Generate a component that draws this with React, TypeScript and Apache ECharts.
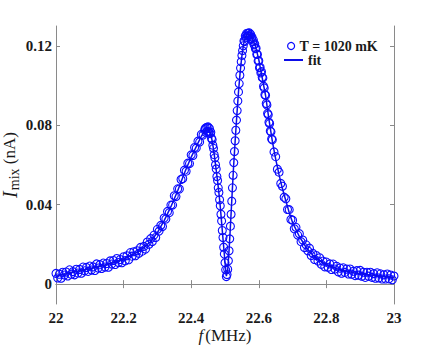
import React, { useEffect, useRef } from "react";
import * as echarts from "echarts";

// Tick values
const xTicks = [22, 22.2, 22.4, 22.6, 22.8, 23];
const yTicks = [0, 0.04, 0.08, 0.12];

const measuredLow: [number, number][] = [
  [22.000, 0.0054], [22.005, 0.0031], [22.010, 0.0050], [22.015, 0.0030], [22.020, 0.0060],
  [22.025, 0.0046], [22.030, 0.0061], [22.035, 0.0041], [22.040, 0.0072], [22.045, 0.0050],
  [22.050, 0.0063], [22.055, 0.0047], [22.060, 0.0075], [22.065, 0.0056], [22.070, 0.0074],
  [22.075, 0.0055], [22.080, 0.0086], [22.085, 0.0067], [22.090, 0.0084], [22.095, 0.0064],
  [22.100, 0.0091], [22.105, 0.0071], [22.110, 0.0087], [22.115, 0.0069], [22.120, 0.0102],
  [22.125, 0.0081], [22.130, 0.0098], [22.135, 0.0079], [22.140, 0.0106], [22.145, 0.0086],
  [22.150, 0.0104], [22.155, 0.0085], [22.160, 0.0117], [22.165, 0.0101], [22.170, 0.0119],
  [22.175, 0.0099], [22.180, 0.0129], [22.185, 0.0109], [22.190, 0.0124], [22.195, 0.0108],
  [22.200, 0.0138], [22.205, 0.0118], [22.210, 0.0143], [22.215, 0.0123], [22.220, 0.0159],
  [22.225, 0.0141], [22.230, 0.0163], [22.235, 0.0143], [22.240, 0.0168], [22.245, 0.0155],
  [22.250, 0.0185], [22.255, 0.0166], [22.260, 0.0190], [22.265, 0.0177], [22.270, 0.0212],
  [22.275, 0.0201], [22.280, 0.0229], [22.285, 0.0215], [22.290, 0.0247], [22.295, 0.0235],
  [22.300, 0.0276], [22.305, 0.0267], [22.310, 0.0296], [22.315, 0.0290], [22.320, 0.0333],
  [22.325, 0.0328], [22.330, 0.0366], [22.335, 0.0360], [22.340, 0.0398], [22.345, 0.0398],
  [22.350, 0.0445], [22.355, 0.0441], [22.360, 0.0480], [22.365, 0.0479], [22.370, 0.0527],
  [22.375, 0.0532], [22.380, 0.0574], [22.385, 0.0569], [22.390, 0.0609], [22.395, 0.0607],
  [22.400, 0.0651], [22.405, 0.0648], [22.410, 0.0688], [22.415, 0.0685], [22.420, 0.0720],
  [22.425, 0.0716], [22.430, 0.0754], [22.435, 0.0751], [22.440, 0.0778],
];

const measuredPeak: [number, number][] = [
  [22.442, 0.0785], [22.444, 0.0764], [22.446, 0.0790], [22.448, 0.0769], [22.450, 0.0792],
  [22.452, 0.0766], [22.454, 0.0784], [22.456, 0.0758], [22.458, 0.0765], [22.460, 0.0735],
  [22.462, 0.0728], [22.464, 0.0700], [22.466, 0.0684], [22.468, 0.0652], [22.470, 0.0636],
  [22.472, 0.0601], [22.474, 0.0580], [22.476, 0.0542], [22.478, 0.0522], [22.480, 0.0485],
  [22.482, 0.0462], [22.484, 0.0425], [22.486, 0.0395], [22.488, 0.0352], [22.490, 0.0318],
  [22.492, 0.0270], [22.494, 0.0235], [22.496, 0.0186], [22.498, 0.0152], [22.500, 0.0108],
  [22.502, 0.0072], [22.504, 0.0038], [22.506, 0.0048], [22.508, 0.0075], [22.510, 0.0118],
  [22.512, 0.0168], [22.514, 0.0228], [22.516, 0.0292], [22.518, 0.0352], [22.520, 0.0418],
  [22.522, 0.0485], [22.524, 0.0548], [22.526, 0.0612], [22.528, 0.0668], [22.530, 0.0722],
  [22.532, 0.0775], [22.534, 0.0826], [22.536, 0.0874], [22.538, 0.0922], [22.540, 0.0968],
  [22.542, 0.1010], [22.544, 0.1052], [22.546, 0.1088], [22.548, 0.1120], [22.550, 0.1152],
  [22.552, 0.1176], [22.554, 0.1200], [22.556, 0.1225], [22.558, 0.1222], [22.560, 0.1250],
  [22.562, 0.1241], [22.564, 0.1262], [22.566, 0.1249], [22.568, 0.1264], [22.570, 0.1252],
  [22.572, 0.1265], [22.574, 0.1248], [22.576, 0.1258], [22.578, 0.1236], [22.580, 0.1244],
  [22.582, 0.1222], [22.584, 0.1229], [22.586, 0.1205], [22.588, 0.1210], [22.590, 0.1186],
  [22.592, 0.1188], [22.594, 0.1158], [22.596, 0.1157], [22.598, 0.1124], [22.600, 0.1125],
  [22.602, 0.1090], [22.604, 0.1092], [22.606, 0.1064], [22.608, 0.1070], [22.610, 0.1042],
  [22.612, 0.1038], [22.614, 0.0997], [22.616, 0.0988], [22.618, 0.0954], [22.620, 0.0951],
  [22.622, 0.0910], [22.624, 0.0902], [22.626, 0.0860], [22.628, 0.0853], [22.630, 0.0815],
  [22.632, 0.0809], [22.634, 0.0771], [22.636, 0.0767], [22.638, 0.0731], [22.640, 0.0727],
];

const measuredHigh: [number, number][] = [
  [22.645, 0.0666], [22.650, 0.0642], [22.655, 0.0579], [22.660, 0.0564], [22.665, 0.0507],
  [22.670, 0.0493], [22.675, 0.0438], [22.680, 0.0430], [22.685, 0.0376], [22.690, 0.0375],
  [22.695, 0.0326], [22.700, 0.0322], [22.705, 0.0279], [22.710, 0.0286], [22.715, 0.0247],
  [22.720, 0.0254], [22.725, 0.0214], [22.730, 0.0222], [22.735, 0.0184], [22.740, 0.0198],
  [22.745, 0.0168], [22.750, 0.0181], [22.755, 0.0144], [22.760, 0.0155], [22.765, 0.0124],
  [22.770, 0.0144], [22.775, 0.0116], [22.780, 0.0133], [22.785, 0.0100], [22.790, 0.0116],
  [22.795, 0.0087], [22.800, 0.0111], [22.805, 0.0085], [22.810, 0.0102], [22.815, 0.0074],
  [22.820, 0.0101], [22.825, 0.0076], [22.830, 0.0090], [22.835, 0.0062], [22.840, 0.0081],
  [22.845, 0.0055], [22.850, 0.0082], [22.855, 0.0059], [22.860, 0.0076], [22.865, 0.0051],
  [22.870, 0.0076], [22.875, 0.0050], [22.880, 0.0065], [22.885, 0.0043], [22.890, 0.0068],
  [22.895, 0.0045], [22.900, 0.0069], [22.905, 0.0040], [22.910, 0.0060], [22.915, 0.0034],
  [22.920, 0.0060], [22.925, 0.0040], [22.930, 0.0060], [22.935, 0.0034], [22.940, 0.0053],
  [22.945, 0.0030], [22.950, 0.0057], [22.955, 0.0031], [22.960, 0.0052], [22.965, 0.0026],
  [22.970, 0.0047], [22.975, 0.0026], [22.980, 0.0051], [22.985, 0.0027], [22.990, 0.0046],
  [22.995, 0.0022], [23.000, 0.0041],
];

// Fit curve [f (MHz), I_mix (nA)]
const fitCurve: [number, number][] = [
  [22.00, 0.0040], [22.05, 0.0060], [22.10, 0.0078], [22.15, 0.0098], [22.20, 0.0125],
  [22.25, 0.0170], [22.28, 0.0215], [22.30, 0.0260], [22.32, 0.0320], [22.34, 0.0390],
  [22.36, 0.0470], [22.38, 0.0560], [22.40, 0.0640], [22.42, 0.0710], [22.43, 0.0745],
  [22.44, 0.0770], [22.445, 0.0777], [22.45, 0.0780], [22.455, 0.0770], [22.46, 0.0740],
  [22.465, 0.0690], [22.47, 0.0630], [22.475, 0.0560], [22.48, 0.0490], [22.485, 0.0410],
  [22.49, 0.0310], [22.495, 0.0210], [22.50, 0.0110], [22.504, 0.0040], [22.508, 0.0070],
  [22.512, 0.0170], [22.516, 0.0290], [22.52, 0.0420], [22.525, 0.0580], [22.53, 0.0720],
  [22.535, 0.0850], [22.54, 0.0970], [22.545, 0.1070], [22.55, 0.1150], [22.555, 0.1210],
  [22.56, 0.1240], [22.565, 0.1255], [22.57, 0.1260], [22.575, 0.1255], [22.58, 0.1240],
  [22.59, 0.1200], [22.60, 0.1130], [22.61, 0.1040], [22.62, 0.0950], [22.63, 0.0830],
  [22.64, 0.0720], [22.65, 0.0630], [22.66, 0.0550], [22.67, 0.0480], [22.68, 0.0420],
  [22.69, 0.0360], [22.70, 0.0310], [22.72, 0.0240], [22.74, 0.0185], [22.76, 0.0145],
  [22.78, 0.0118], [22.80, 0.0098], [22.84, 0.0072], [22.88, 0.0058], [22.92, 0.0048],
  [22.96, 0.0040], [23.00, 0.0034],
];

const dataName = "T = 1020 mK";
const fitName = "fit";

const AXIS_GRAY = "#8a8a8a";
const TEXT = "#1a1a1a";
const SERIF = "Liberation Serif";
const DATA_BLUE = "#0a0aff";
const FIT_BLUE = "#0d0de8";

export default function App() {
  const ref = useRef<HTMLDivElement>(null);

  useEffect(() => {
    if (!ref.current) return;
    const chart = echarts.init(ref.current, undefined, { renderer: "svg" });

    const axisLine = { show: true, lineStyle: { color: AXIS_GRAY, width: 1 } };
    const tickStyle = { color: AXIS_GRAY, width: 1 };
    const legendText = { fontFamily: SERIF, fontWeight: "bold", fontSize: 14, color: TEXT };

    chart.setOption({
      animation: false,
      backgroundColor: "#ffffff",
      grid: { left: 56, right: 42, top: 26, bottom: 43, containLabel: false, outerBoundsMode: "none" },
      legend: [
        {
          data: [{ name: dataName, icon: "circle", itemStyle: { color: "rgba(0,0,0,0)", borderColor: DATA_BLUE, borderWidth: 1.2 } }],
          left: 287,
          top: 39,
          padding: 0,
          itemWidth: 7,
          itemHeight: 7,
          textStyle: legendText,
          selectedMode: false,
        },
        {
          data: [{ name: fitName, icon: "rect", itemStyle: { color: FIT_BLUE, borderWidth: 0 } }],
          left: 284,
          top: 53,
          padding: 0,
          itemWidth: 19,
          itemHeight: 2,
          textStyle: legendText,
          selectedMode: false,
        },
      ],
      xAxis: [
        {
          type: "value",
          position: "bottom",
          min: 22,
          max: 23,
          interval: 0.2,
          axisLine,
          axisTick: { show: true, inside: true, length: 4, lineStyle: tickStyle, customValues: xTicks },
          axisLabel: {
            customValues: xTicks,
            margin: 6,
            fontFamily: SERIF,
            fontWeight: "bold",
            fontSize: 15,
            color: TEXT,
            formatter: (v: number) => String(Math.round(v * 10) / 10),
          },
          splitLine: { show: false },
          name: "{i|f}(MHz)",
          nameLocation: "middle",
          nameGap: 23,
          nameMoveOverlap: false,
          nameTextStyle: {
            fontFamily: SERIF,
            fontSize: 17,
            color: TEXT,
            rich: {
              i: { fontFamily: SERIF, fontStyle: "italic", fontSize: 17, color: TEXT, padding: [0, 2, 0, 0] },
            },
          },
        },
        {
          type: "value",
          position: "top",
          min: 22,
          max: 23,
          interval: 0.2,
          axisLine,
          axisTick: { show: true, inside: true, length: 4, lineStyle: tickStyle, customValues: xTicks },
          axisLabel: { show: false },
          splitLine: { show: false },
        },
      ],
      yAxis: [
        {
          type: "value",
          position: "left",
          min: -0.01,
          max: 0.13,
          axisLine,
          axisTick: { show: true, inside: true, length: 4, lineStyle: tickStyle, customValues: yTicks },
          axisLabel: {
            customValues: yTicks,
            margin: 4,
            fontFamily: SERIF,
            fontWeight: "bold",
            fontSize: 15,
            color: TEXT,
            formatter: (v: number) => (Math.abs(v) < 1e-9 ? "0" : String(Math.round(v * 100) / 100)),
          },
          splitLine: { show: false },
          name: "{i|I}{s|mix} (nA)",
          nameLocation: "middle",
          nameRotate: 90,
          nameGap: 35,
          nameMoveOverlap: false,
          nameTextStyle: {
            fontFamily: SERIF,
            fontSize: 17,
            color: TEXT,
            rich: {
              i: { fontFamily: SERIF, fontStyle: "italic", fontSize: 20, color: TEXT },
              s: { fontFamily: SERIF, fontSize: 14, color: TEXT, padding: [9, 0, 0, 1] },
            },
          },
        },
        {
          type: "value",
          position: "right",
          min: -0.01,
          max: 0.13,
          axisLine,
          axisTick: { show: true, inside: true, length: 4, lineStyle: tickStyle, customValues: yTicks },
          axisLabel: { show: false },
          splitLine: { show: false },
        },
      ],
      series: [
        {
          name: dataName,
          type: "scatter",
          xAxisIndex: 0,
          yAxisIndex: 0,
          data: [...measuredLow, ...measuredPeak, ...measuredHigh],
          symbol: "circle",
          symbolSize: 8,
          itemStyle: { color: "rgba(0,0,0,0)", borderColor: DATA_BLUE, borderWidth: 1.1, opacity: 1 },
          z: 2,
        },
        {
          name: fitName,
          type: "line",
          xAxisIndex: 0,
          yAxisIndex: 0,
          data: fitCurve,
          symbol: "none",
          showSymbol: false,
          lineStyle: { color: FIT_BLUE, width: 1.5 },
          itemStyle: { color: FIT_BLUE },
          z: 3,
        },
      ],
    });

    return () => chart.dispose();
  }, []);

  return (
    <div
      ref={ref}
      style={{ position: "fixed", left: 0, top: 0, width: 436, height: 347 }}
    />
  );
}
